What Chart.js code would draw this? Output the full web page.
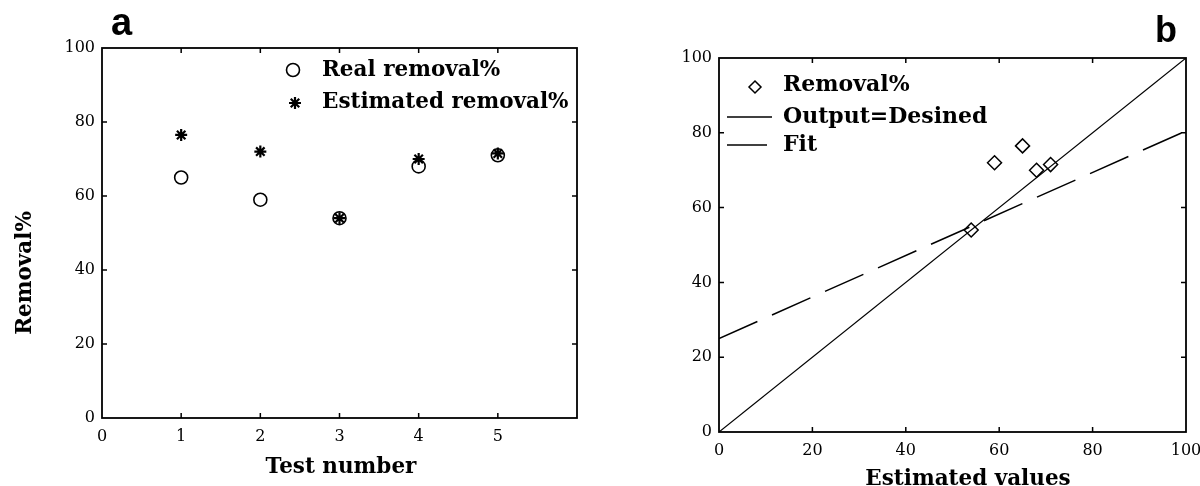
<!DOCTYPE html>
<html>
<head>
<meta charset="utf-8">
<script src="https://cdn.jsdelivr.net/npm/chart.js@4.4.1/dist/chart.umd.min.js"></script>
<style>
  html, body { margin: 0; padding: 0; background: #fff; }
  #wrap { position: relative; width: 1200px; height: 486px; overflow: hidden; }
  .panel { position: absolute; top: 0; width: 600px; height: 486px; }
</style>
</head>
<body>
<div id="wrap">
  <div class="panel" style="left:0"><canvas id="chartA" width="600" height="486"></canvas></div>
  <div class="panel" style="left:600px"><canvas id="chartB" width="600" height="486"></canvas></div>
</div>
<script>
// Panel a: removal per test
const testNumbers = [1, 2, 3, 4, 5];
const realRemoval = [65, 59, 54, 68, 71];
const estimatedRemoval = [76.5, 72, 54, 70, 71.5];
const testTicks = [0, 1, 2, 3, 4, 5];
const removalTicks = [0, 20, 40, 60, 80, 100];

// Panel b: real vs estimated values
const estimatedValues = [65, 59, 54, 68, 71];
const realValues = [76.5, 72, 54, 70, 71.5];
const valueTicks = [0, 20, 40, 60, 80, 100];
const identityX = [0, 100];
const identityY = [0, 100];
const fitX = [0, 100];
const fitY = [25, 80.5];

const SERIF = "'DejaVu Serif', serif";
const SANS = "'Liberation Sans', Arial, sans-serif";

function pairs(xs, ys) { return xs.map((x, i) => ({ x: x, y: ys[i] })); }

// Fix an axis box to a set size so the plot frame lands where wanted
function fixedBox(w, h) {
  return function (scale) {
    if (w != null) scale.width = w;
    if (h != null) scale.height = h;
    scale.paddingLeft = scale.paddingRight = scale.paddingTop = scale.paddingBottom = 0;
  };
}
function useTicks(list) {
  return function (scale) { scale.ticks = list.map(v => ({ value: v })); };
}
function axis(min, max, ticks, box, pad) {
  return {
    type: 'linear', min: min, max: max,
    afterBuildTicks: useTicks(ticks),
    afterFit: box,
    grid: { display: false, drawTicks: false },
    border: { display: false },
    ticks: { color: '#000', font: { family: SERIF, size: 16 }, padding: pad, autoSkip: false, maxRotation: 0 }
  };
}

function drawMarker(ctx, style, x, y, r) {
  ctx.save();
  ctx.strokeStyle = '#000';
  ctx.fillStyle = '#000';
  ctx.beginPath();
  if (style === 'circle') {
    ctx.lineWidth = 1.6;
    ctx.arc(x, y, r, 0, Math.PI * 2);
    ctx.stroke();
  } else if (style === 'star') {
    ctx.lineWidth = 2.2;
    for (let k = 0; k < 4; k++) {
      const a = k * Math.PI / 4;
      ctx.moveTo(x - r * Math.cos(a), y - r * Math.sin(a));
      ctx.lineTo(x + r * Math.cos(a), y + r * Math.sin(a));
    }
    ctx.stroke();
  } else if (style === 'diamond') {
    ctx.lineWidth = 1.5;
    ctx.moveTo(x, y - r); ctx.lineTo(x + r, y); ctx.lineTo(x, y + r); ctx.lineTo(x - r, y); ctx.closePath();
    ctx.stroke();
  } else if (style === 'line' || style === 'dash') {
    ctx.lineWidth = 1.5;
    ctx.moveTo(x, y); ctx.lineTo(x + r, y);
    ctx.stroke();
  }
  ctx.restore();
}

// Frame with inward ticks, legend, axis titles and panel letter
const decor = {
  id: 'decor',
  afterDatasetsDraw(chart, args, o) {
    const ctx = chart.ctx;
    const a = chart.chartArea;
    const sx = chart.scales.x, sy = chart.scales.y;
    ctx.save();
    ctx.strokeStyle = '#000';
    ctx.lineWidth = 1.8;
    ctx.strokeRect(a.left, a.top, a.right - a.left, a.bottom - a.top);
    ctx.lineWidth = 1.5;
    ctx.beginPath();
    const tl = 5;
    sx.ticks.forEach(t => {
      const px = sx.getPixelForValue(t.value);
      if (px <= a.left + 1 || px >= a.right - 1) return;
      ctx.moveTo(px, a.bottom); ctx.lineTo(px, a.bottom - tl);
      ctx.moveTo(px, a.top); ctx.lineTo(px, a.top + tl);
    });
    sy.ticks.forEach(t => {
      const py = sy.getPixelForValue(t.value);
      if (py <= a.top + 1 || py >= a.bottom - 1) return;
      ctx.moveTo(a.left, py); ctx.lineTo(a.left + tl, py);
      ctx.moveTo(a.right, py); ctx.lineTo(a.right - tl, py);
    });
    ctx.stroke();

    // legend
    ctx.fillStyle = '#000';
    ctx.textBaseline = 'middle';
    ctx.textAlign = 'left';
    ctx.font = 'bold ' + o.legendSize + 'px ' + SERIF;
    o.legend.forEach(item => {
      drawMarker(ctx, item.style, item.mx, item.my, item.mr);
      ctx.fillText(item.text, item.tx, item.ty);
    });

    // axis titles
    ctx.font = 'bold ' + o.titleSize + 'px ' + SERIF;
    ctx.textBaseline = 'alphabetic';
    ctx.textAlign = 'center';
    ctx.fillText(o.xTitle.text, o.xTitle.x, o.xTitle.y);
    ctx.save();
    ctx.translate(o.yTitle.x, o.yTitle.y);
    ctx.rotate(-Math.PI / 2);
    ctx.fillText(o.yTitle.text, 0, 0);
    ctx.restore();

    // panel letter
    ctx.font = 'bold ' + o.letter.size + 'px ' + SANS;
    ctx.textAlign = 'left';
    ctx.fillText(o.letter.text, o.letter.x, o.letter.y);
    ctx.restore();
  }
};

const common = {
  responsive: false,
  animation: false,
  events: [],
  plugins: { legend: { display: false }, tooltip: { enabled: false } }
};

new Chart(document.getElementById('chartA'), {
  type: 'scatter',
  data: {
    datasets: [
      {
        label: 'Estimated removal%',
        data: pairs(testNumbers, estimatedRemoval),
        pointStyle: 'star', pointRadius: 6, pointBorderWidth: 2.2,
        borderColor: '#000', backgroundColor: '#000'
      },
      {
        label: 'Real removal%',
        data: pairs(testNumbers, realRemoval),
        pointStyle: 'circle', pointRadius: 6.5, pointBorderWidth: 1.6,
        borderColor: '#000', backgroundColor: 'rgba(0,0,0,0)'
      }
    ]
  },
  options: Object.assign({}, common, {
    layout: { padding: { top: 48, right: 23, left: 0, bottom: 0 } },
    scales: {
      x: axis(0, 6, testTicks, fixedBox(null, 68), 9),
      y: axis(0, 100, removalTicks, fixedBox(102, null), 7)
    },
    plugins: Object.assign({}, common.plugins, {
      decor: {
        legendSize: 21.5, titleSize: 21.5,
        legend: [
          { style: 'circle', mx: 293, my: 70, mr: 6.5, text: 'Real removal%', tx: 322, ty: 70 },
          { style: 'star', mx: 295, my: 103, mr: 6, text: 'Estimated removal%', tx: 322, ty: 102 }
        ],
        xTitle: { text: 'Test number', x: 341, y: 473 },
        yTitle: { text: 'Removal%', x: 31, y: 273 },
        letter: { text: 'a', size: 38, x: 111, y: 35 }
      }
    })
  }),
  plugins: [decor]
});

new Chart(document.getElementById('chartB'), {
  type: 'scatter',
  data: {
    datasets: [
      {
        label: 'Removal%',
        data: pairs(estimatedValues, realValues),
        pointStyle: 'rectRot', pointRadius: 7, pointBorderWidth: 1.5,
        borderColor: '#000', backgroundColor: 'rgba(0,0,0,0)'
      },
      {
        label: 'Output=Desined',
        data: pairs(identityX, identityY),
        showLine: true, pointRadius: 0, borderWidth: 1.2, borderColor: '#000'
      },
      {
        label: 'Fit',
        data: pairs(fitX, fitY),
        showLine: true, pointRadius: 0, borderWidth: 1.5, borderColor: '#000',
        borderDash: [42, 16]
      }
    ]
  },
  options: Object.assign({}, common, {
    layout: { padding: { top: 58, right: 14, left: 0, bottom: 0 } },
    scales: {
      x: axis(0, 100, valueTicks, fixedBox(null, 54), 9),
      y: axis(0, 100, valueTicks, fixedBox(119, null), 7)
    },
    plugins: Object.assign({}, common.plugins, {
      decor: {
        legendSize: 22, titleSize: 21.5,
        legend: [
          { style: 'diamond', mx: 155, my: 87, mr: 6, text: 'Removal%', tx: 183, ty: 85 },
          { style: 'line', mx: 127, my: 117, mr: 45, text: 'Output=Desined', tx: 183, ty: 117 },
          { style: 'dash', mx: 127, my: 145, mr: 40, text: 'Fit', tx: 183, ty: 145 }
        ],
        xTitle: { text: 'Estimated values', x: 368, y: 485 },
        yTitle: { text: 'Real values', x: 667, y: 281 },
        letter: { text: 'b', size: 36, x: 555, y: 42 }
      }
    })
  }),
  plugins: [decor]
});
</script>
</body>
</html>
